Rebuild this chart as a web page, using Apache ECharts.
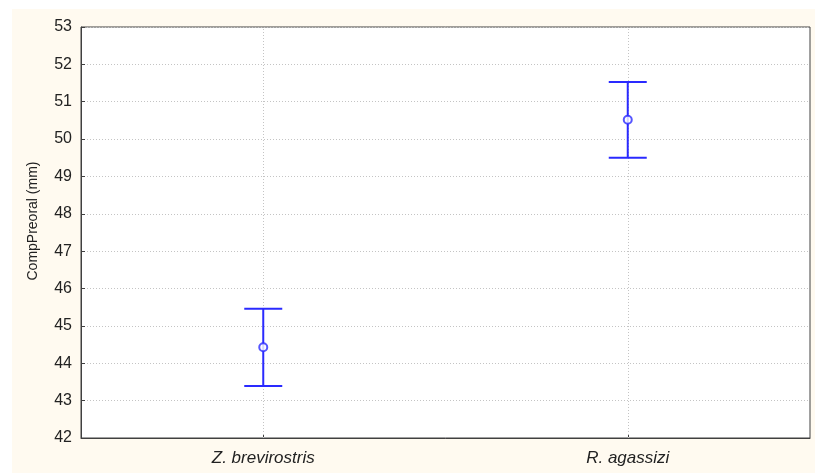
<!DOCTYPE html>
<html><head><meta charset="utf-8">
<script src="https://cdn.jsdelivr.net/npm/echarts@6/dist/echarts.min.js"></script>
<style>html,body{margin:0;padding:0;background:#fff}#c{width:815px;height:473px}</style>
</head><body><div id="c"></div>
<script>
const categories = ['Z. brevirostris', 'R. agassizi'];
const means = [44.43, 50.52];
const lower = [43.39, 49.50];
const upper = [45.46, 51.53];
const yTicks = {min: 42, max: 53, step: 1};
const yName = 'CompPreoral (mm)';

const blue = '#2a2aff';
const chart = echarts.init(document.getElementById('c'), null, {renderer: 'canvas'});
const barData = categories.map((c, i) => [i, lower[i], upper[i]]);
chart.setOption({
  animation: false,
  backgroundColor: '#ffffff',
  graphic: [
    {type: 'rect', z: -10, silent: true, shape: {x: 12, y: 9, width: 803, height: 464}, style: {fill: '#fffaf0'}},
    {type: 'text', x: 33, y: 221, rotation: Math.PI / 2, style: {text: yName, fill: '#222', font: '14px "Liberation Sans", Arial, sans-serif', align: 'center', verticalAlign: 'middle'}}
  ],
  grid: {left: 81, top: 27, right: 5, bottom: 35, show: true, backgroundColor: '#ffffff', borderColor: '#404040', borderWidth: 1},
  xAxis: {
    type: 'category', data: categories, boundaryGap: true,
    axisLine: {show: true, lineStyle: {color: '#404040'}},
    axisTick: {show: true, inside: true, alignWithLabel: true, length: 4, lineStyle: {color: '#404040'}},
    axisLabel: {margin: 12, color: '#222', fontSize: 17, fontStyle: 'italic', fontFamily: '"Liberation Sans", Arial, sans-serif'},
    splitLine: {show: false}
  },
  yAxis: {
    type: 'value', min: yTicks.min, max: yTicks.max, interval: yTicks.step,
    axisLine: {show: true, lineStyle: {color: '#404040'}},
    axisTick: {show: true, inside: true, length: 4, lineStyle: {color: '#404040'}},
    axisLabel: {margin: 9, color: '#222', fontSize: 16, fontFamily: '"Liberation Sans", Arial, sans-serif'},
    splitLine: {show: true, lineStyle: {color: '#c4c4c4', type: [1, 2], width: 1}}
  },
  series: [
    {
      type: 'custom', data: barData, z: 3,
      renderItem: function (params, api) {
        const x = api.value(0);
        const lo = api.coord([x, api.value(1)]);
        const hi = api.coord([x, api.value(2)]);
        const hw = 19;
        const st = {stroke: blue, lineWidth: 2, fill: null};
        return {type: 'group', children: [
          {type: 'line', shape: {x1: lo[0], y1: lo[1], x2: hi[0], y2: hi[1]}, style: st},
          {type: 'line', shape: {x1: lo[0] - hw, y1: lo[1], x2: lo[0] + hw, y2: lo[1]}, style: st},
          {type: 'line', shape: {x1: hi[0] - hw, y1: hi[1], x2: hi[0] + hw, y2: hi[1]}, style: st}
        ]};
      }
    },
    {
      type: 'scatter', data: means, z: 5, symbol: 'circle', symbolSize: 8,
      itemStyle: {color: '#ffffff', borderColor: blue, borderWidth: 2},
      markLine: {
        silent: true, symbol: 'none', label: {show: false}, z: 1,
        lineStyle: {color: '#c4c4c4', type: [1, 2], width: 1},
        data: categories.map(c => ({xAxis: c}))
      }
    }
  ]
});
</script></body></html>
